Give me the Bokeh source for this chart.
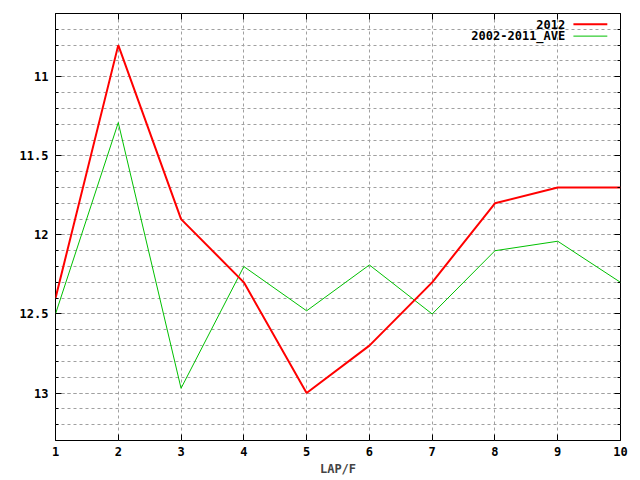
from bokeh.plotting import figure
from bokeh.models import LinearAxis, FixedTicker, Label, Range1d
from bokeh.embed import file_html
from bokeh.resources import INLINE
import numpy as np

laps = [1, 2, 3, 4, 5, 6, 7, 8, 9, 10]
y2012 = [12.40, 10.80, 11.90, 12.30, 13.00, 12.70, 12.30, 11.80, 11.70, 11.70]
yave = [12.50, 11.29, 12.97, 12.20, 12.48, 12.19, 12.50, 12.10, 12.04, 12.30]
series_names = ["2012", "2002-2011_AVE"]
y_major = [11, 11.5, 12, 12.5, 13]
x_label = "LAP/F"

RED = "#ff0000"
GREEN = "#00c000"
GRID = "#a0a0a0"
FONT = "DejaVu Sans Mono"

p = figure(width=640, height=480, x_range=Range1d(1, 10), y_range=Range1d(13.3, 10.6),
           output_backend="svg", toolbar_location=None,
           min_border_left=55, min_border_right=20, min_border_top=13, min_border_bottom=40,
           x_axis_location="below", y_axis_location="left")
p.background_fill_color = "white"
p.border_fill_color = "white"
p.outline_line_color = "black"
p.outline_line_width = 1

minor_y = [round(v, 1) for v in np.arange(10.6, 13.31, 0.1)]

# grids
p.xgrid.ticker = FixedTicker(ticks=laps)
p.xgrid.grid_line_color = GRID
p.xgrid.grid_line_dash = "3 3"
p.ygrid.ticker = FixedTicker(ticks=y_major, minor_ticks=minor_y)
p.ygrid.grid_line_color = GRID
p.ygrid.grid_line_dash = "3 3"
p.ygrid.minor_grid_line_color = GRID
p.ygrid.minor_grid_line_dash = "3 3"

def style_axis(ax, labels=True):
    ax.axis_line_color = None
    ax.major_tick_in = 6
    ax.major_tick_out = 0
    ax.minor_tick_in = 3
    ax.minor_tick_out = 0
    ax.major_tick_line_color = "black"
    ax.minor_tick_line_color = "black"
    ax.major_label_text_font = FONT
    ax.major_label_text_font_style = "bold"
    ax.major_label_text_font_size = "12px"
    ax.major_label_standoff = 7 if labels else 0
    ax.major_label_text_color = "black"

xa = p.xaxis[0]
xa.ticker = FixedTicker(ticks=laps)
style_axis(xa)
xa.minor_tick_in = 0
xa.major_label_standoff = 6
xa.axis_label = x_label
xa.axis_label_text_font = FONT
xa.axis_label_text_font_style = "bold"
xa.axis_label_text_font_size = "12px"
xa.axis_label_standoff = 3

ya = p.yaxis[0]
ya.ticker = FixedTicker(ticks=y_major, minor_ticks=minor_y)
style_axis(ya)

ra = LinearAxis(ticker=FixedTicker(ticks=y_major, minor_ticks=minor_y))
style_axis(ra, labels=False)
ra.major_label_overrides = {v: "" for v in y_major}
p.add_layout(ra, "right")

ta = LinearAxis(ticker=FixedTicker(ticks=laps))
style_axis(ta, labels=False)
ta.minor_tick_in = 0
ta.major_label_overrides = {v: "" for v in laps}
p.add_layout(ta, "above")

p.line(laps, yave, line_color=GREEN, line_width=1)
p.line(laps, y2012, line_color=RED, line_width=2)

# manual legend (gnuplot style: text right, sample line to the right)
leg_text_x = 9.12
leg_line_x0, leg_line_x1 = 9.25, 9.79
leg_y = [10.668, 10.743]
leg_colors = [RED, GREEN]
leg_widths = [2, 1]
for name, yy, c, w in zip(series_names, leg_y, leg_colors, leg_widths):
    p.add_layout(Label(x=leg_text_x, y=yy, text=name, text_align="right", text_baseline="middle",
                       text_font=FONT, text_font_style="bold", text_font_size="12px",
                       text_color="black"))
    p.segment(x0=[leg_line_x0], y0=[yy], x1=[leg_line_x1], y1=[yy], line_color=c, line_width=w)

open("out.html", "w").write(file_html(p, INLINE))
